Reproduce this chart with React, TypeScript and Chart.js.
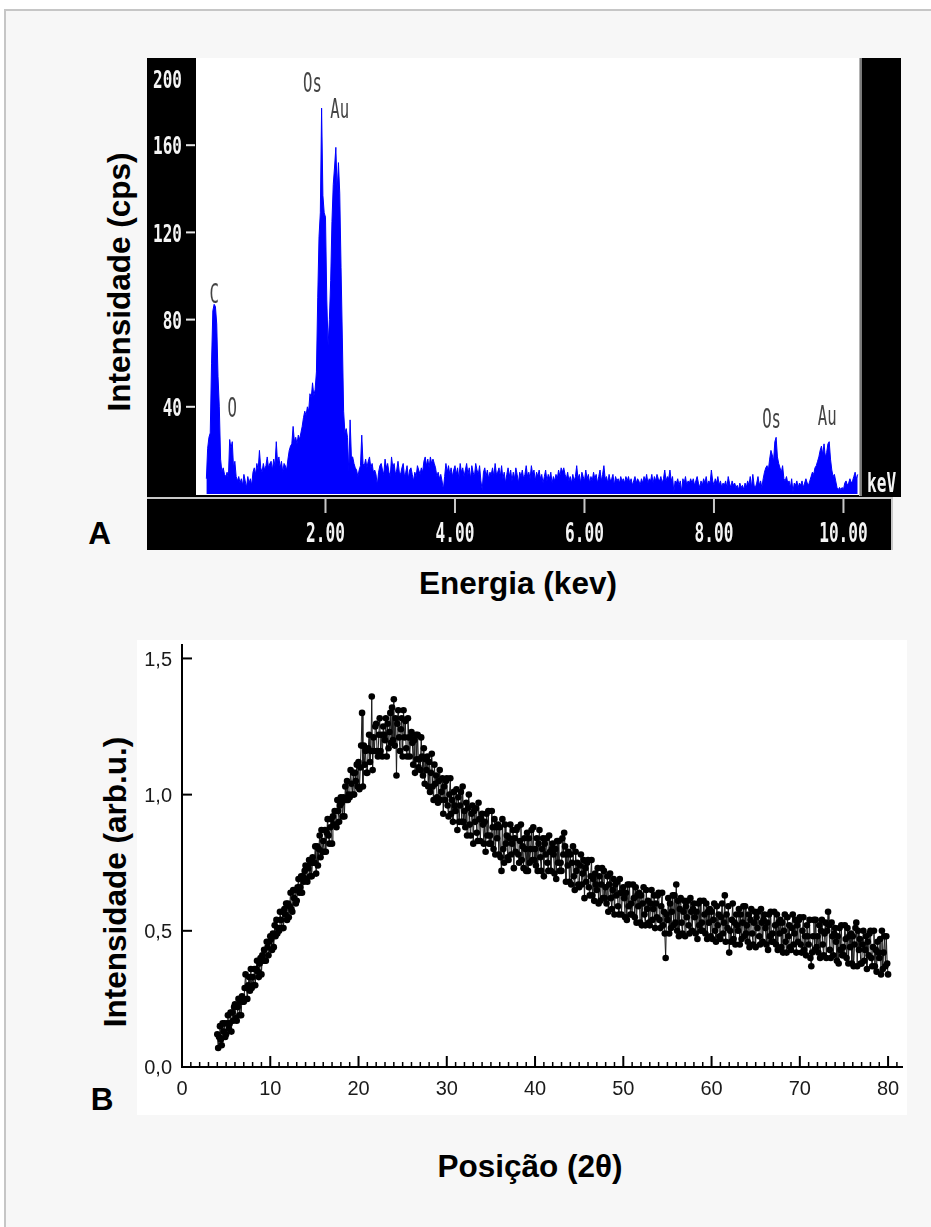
import React, { useEffect, useRef } from 'react';
import { Chart, registerables } from 'chart.js';

Chart.register(...registerables);

// ---------- Panel A : EDS spectrum ----------
const energyStart = 0.16; // keV of first channel
const energyStep = 0.02; // keV per channel
const edsCounts: number[] = [
  7, 21, 26, 28, 60, 84, 87, 86, 78, 54, 40, 16, 10, 12, 9, 8, 10, 7, 25, 21, 24, 12, 15, 8, 6,
  8, 5, 7, 4, 9, 6, 3, 8, 5, 7, 4, 10, 12, 9, 14, 11, 20, 12, 10, 14, 11, 13, 17, 12, 14,
  15, 11, 16, 13, 24, 14, 17, 12, 15, 10, 14, 13, 11, 16, 20, 22, 23, 31, 24, 26, 23, 27, 25, 28, 31,
  35, 38, 36, 40, 38, 46, 44, 51, 45, 48, 56, 90, 118, 129, 177, 137, 129, 127, 89, 68, 80, 98, 125, 142, 150,
  159, 139, 152, 138, 104, 72, 38, 28, 30, 26, 10, 34, 17, 17, 14, 12, 11, 8, 11, 13, 27, 14, 13, 16, 12,
  15, 17, 12, 14, 10, 11, 9, 4, 10, 13, 14, 11, 9, 16, 12, 14, 10, 8, 17, 12, 14, 9, 11, 15, 10,
  9, 12, 14, 8, 10, 13, 7, 11, 12, 9, 6, 10, 8, 13, 11, 9, 12, 10, 15, 17, 13, 16, 12, 17, 14,
  16, 14, 12, 8, 10, 7, 9, 6, 2, 8, 14, 10, 13, 9, 12, 8, 11, 13, 9, 12, 7, 14, 10, 12, 8,
  11, 14, 9, 12, 7, 13, 10, 8, 14, 11, 9, 13, 6, 2, 10, 12, 8, 11, 7, 10, 9, 12, 8, 14, 9,
  10, 12, 8, 13, 7, 10, 5, 9, 12, 8, 11, 6, 10, 7, 12, 9, 5, 10, 8, 11, 7, 9, 13, 8, 10,
  7, 13, 9, 11, 6, 10, 8, 11, 7, 9, 5, 8, 11, 6, 9, 7, 10, 5, 8, 6, 9, 7, 11, 8, 12,
  10, 12, 9, 7, 10, 6, 8, 5, 9, 6, 8, 13, 7, 9, 5, 10, 8, 6, 11, 7, 9, 5, 8, 6, 10,
  7, 9, 5, 8, 11, 6, 9, 13, 7, 8, 5, 9, 6, 7, 9, 4, 8, 6, 7, 5, 8, 6, 7, 5, 8,
  6, 8, 5, 7, 4, 6, 8, 5, 7, 6, 4, 7, 5, 8, 6, 9, 5, 7, 6, 9, 5, 8, 6, 9, 7,
  6, 8, 5, 7, 11, 6, 8, 7, 11, 6, 8, 1, 6, 5, 7, 4, 6, 1, 7, 5, 8, 4, 6, 5, 7,
  5, 7, 4, 6, 8, 5, 3, 6, 4, 7, 5, 8, 4, 6, 5, 11, 6, 4, 7, 5, 8, 4, 6, 3, 5,
  4, 6, 3, 8, 5, 3, 6, 4, 5, 3, 4, 2, 5, 3, 4, 2, 5, 3, 6, 4, 8, 3, 9, 4, 3,
  5, 8, 4, 6, 3, 7, 10, 12, 13, 11, 16, 20, 18, 15, 24, 26, 17, 14, 12, 10, 13, 7, 6, 8, 5,
  6, 3, 7, 1, 5, 4, 6, 3, 5, 4, 6, 3, 5, 7, 5, 4, 6, 8, 10, 9, 12, 13, 15, 17, 20,
  22, 18, 23, 17, 19, 23, 24, 16, 11, 8, 9, 6, 3, 2, 3, 2, 3, 2, 5, 6, 4, 5, 7, 5, 6,
  8, 10, 7, 9,
];
const edsXMax = 10.24;
const edsYMax = 200;
const edsYTickValues = [40, 80, 120, 160];
const edsYTopLabel = '200';
const edsXTickValues = [2, 4, 6, 8, 10];
const edsXTickLabels = ['2.00', '4.00', '6.00', '8.00', '10.00'];
const edsUnitLabel = 'keV';
const edsPeakNames = ['C', 'O', 'Os', 'Au', 'Os', 'Au'];
const edsPeakEnergies = [0.28, 0.56, 1.8, 2.22, 8.89, 9.75];
const edsPeakLabelCps = [92, 40, 189, 177, 35, 36];

// ---------- Panel B : XRD pattern ----------
const thetaStart = 4; // 2θ of first point
const thetaStep = 0.1;
const xrdIntensity: number[] = [
  0.12, 0.07, 0.11, 0.15, 0.10, 0.08, 0.16, 0.13, 0.16, 0.11,
  0.12, 0.16, 0.19, 0.14, 0.16, 0.20, 0.13, 0.20, 0.17, 0.22,
  0.23, 0.18, 0.17, 0.22, 0.25, 0.19, 0.24, 0.19, 0.26, 0.24,
  0.24, 0.29, 0.34, 0.29, 0.25, 0.30, 0.33, 0.28, 0.36, 0.29,
  0.33, 0.30, 0.36, 0.30, 0.36, 0.39, 0.35, 0.33, 0.38, 0.40,
  0.34, 0.41, 0.39, 0.43, 0.39, 0.39, 0.46, 0.44, 0.41, 0.46,
  0.48, 0.47, 0.43, 0.49, 0.44, 0.52, 0.48, 0.54, 0.49, 0.51,
  0.50, 0.57, 0.54, 0.51, 0.57, 0.51, 0.58, 0.56, 0.60, 0.54,
  0.60, 0.55, 0.59, 0.64, 0.58, 0.57, 0.65, 0.62, 0.65, 0.60,
  0.61, 0.66, 0.69, 0.64, 0.66, 0.70, 0.64, 0.70, 0.68, 0.72,
  0.74, 0.69, 0.68, 0.73, 0.76, 0.70, 0.75, 0.70, 0.77, 0.75,
  0.75, 0.81, 0.71, 0.81, 0.74, 0.80, 0.85, 0.77, 0.87, 0.79,
  0.83, 0.79, 0.87, 0.79, 0.86, 0.91, 0.85, 0.82, 0.88, 0.91,
  0.82, 0.92, 0.89, 0.94, 0.89, 0.88, 0.98, 0.94, 0.90, 0.96,
  0.99, 0.97, 0.92, 0.99, 0.92, 1.03, 0.98, 1.05, 0.98, 1.00,
  0.99, 1.09, 1.04, 1.00, 1.08, 1.00, 1.08, 1.05, 1.11, 1.03,
  1.12, 1.02, 1.10, 1.18, 1.30, 1.03, 1.18, 1.11, 1.16, 1.08,
  1.08, 1.17, 1.22, 1.12, 1.16, 1.36, 1.09, 1.21, 1.16, 1.25,
  1.26, 1.16, 1.14, 1.22, 1.28, 1.16, 1.22, 1.14, 1.25, 1.22,
  1.20, 1.28, 1.14, 1.26, 1.17, 1.23, 1.30, 1.19, 1.32, 1.20,
  1.35, 1.18, 1.28, 1.07, 1.26, 1.31, 1.21, 1.16, 1.24, 1.28,
  1.14, 1.31, 1.21, 1.27, 1.17, 1.14, 1.28, 1.21, 1.14, 1.21,
  1.23, 1.19, 1.11, 1.20, 1.08, 1.22, 1.13, 1.22, 1.10, 1.13,
  1.09, 1.21, 1.14, 1.07, 1.17, 1.04, 1.13, 1.09, 1.14, 1.03,
  1.12, 1.01, 1.08, 1.15, 1.03, 0.98, 1.11, 1.04, 1.07, 0.99,
  0.97, 1.05, 1.09, 0.98, 1.01, 1.06, 0.93, 1.03, 0.98, 1.05,
  1.06, 0.96, 0.92, 1.00, 1.06, 0.93, 0.98, 0.90, 1.01, 0.96,
  0.94, 1.02, 0.87, 0.99, 0.90, 0.96, 1.01, 0.90, 1.03, 0.90,
  0.94, 0.88, 0.97, 0.85, 0.95, 1.00, 0.89, 0.85, 0.93, 0.96,
  0.82, 0.94, 0.90, 0.95, 0.86, 0.83, 0.97, 0.91, 0.83, 0.91,
  0.93, 0.89, 0.82, 0.90, 0.79, 0.93, 0.85, 0.94, 0.82, 0.85,
  0.82, 0.94, 0.88, 0.80, 0.91, 0.78, 0.88, 0.84, 0.89, 0.78,
  0.88, 0.77, 0.72, 0.91, 0.80, 0.75, 0.89, 0.82, 0.85, 0.77,
  0.76, 0.84, 0.89, 0.78, 0.82, 0.87, 0.73, 0.84, 0.79, 0.87,
  0.88, 0.78, 0.75, 0.83, 0.89, 0.76, 0.81, 0.73, 0.84, 0.80,
  0.72, 0.86, 0.72, 0.84, 0.75, 0.80, 0.87, 0.76, 0.88, 0.76,
  0.80, 0.74, 0.84, 0.72, 0.82, 0.87, 0.77, 0.72, 0.80, 0.84,
  0.70, 0.82, 0.78, 0.84, 0.75, 0.72, 0.85, 0.79, 0.72, 0.80,
  0.82, 0.78, 0.71, 0.80, 0.69, 0.83, 0.75, 0.83, 0.72, 0.75,
  0.72, 0.84, 0.78, 0.86, 0.81, 0.68, 0.78, 0.74, 0.79, 0.68,
  0.78, 0.67, 0.75, 0.81, 0.70, 0.65, 0.79, 0.72, 0.75, 0.67,
  0.66, 0.74, 0.78, 0.67, 0.71, 0.76, 0.62, 0.73, 0.68, 0.75,
  0.76, 0.66, 0.63, 0.70, 0.76, 0.63, 0.69, 0.61, 0.71, 0.67,
  0.65, 0.73, 0.60, 0.70, 0.61, 0.67, 0.73, 0.62, 0.72, 0.62,
  0.66, 0.60, 0.70, 0.57, 0.67, 0.71, 0.62, 0.58, 0.65, 0.69,
  0.56, 0.67, 0.63, 0.68, 0.59, 0.56, 0.69, 0.64, 0.56, 0.64,
  0.66, 0.62, 0.55, 0.64, 0.54, 0.67, 0.59, 0.67, 0.56, 0.60,
  0.56, 0.67, 0.62, 0.55, 0.66, 0.53, 0.63, 0.59, 0.64, 0.53,
  0.63, 0.52, 0.60, 0.66, 0.56, 0.52, 0.65, 0.58, 0.61, 0.53,
  0.52, 0.60, 0.65, 0.54, 0.58, 0.63, 0.51, 0.60, 0.55, 0.63,
  0.64, 0.54, 0.51, 0.59, 0.64, 0.52, 0.57, 0.49, 0.40, 0.56,
  0.54, 0.62, 0.49, 0.60, 0.51, 0.57, 0.63, 0.52, 0.63, 0.53,
  0.67, 0.50, 0.61, 0.48, 0.58, 0.62, 0.53, 0.49, 0.57, 0.61,
  0.48, 0.59, 0.55, 0.61, 0.52, 0.49, 0.62, 0.57, 0.50, 0.58,
  0.60, 0.55, 0.49, 0.57, 0.47, 0.60, 0.52, 0.61, 0.50, 0.53,
  0.50, 0.61, 0.56, 0.49, 0.60, 0.47, 0.57, 0.53, 0.58, 0.48,
  0.57, 0.47, 0.54, 0.60, 0.50, 0.46, 0.59, 0.52, 0.56, 0.48,
  0.47, 0.55, 0.60, 0.49, 0.53, 0.63, 0.46, 0.56, 0.51, 0.59,
  0.42, 0.50, 0.46, 0.54, 0.60, 0.47, 0.53, 0.45, 0.56, 0.52,
  0.50, 0.58, 0.45, 0.56, 0.47, 0.53, 0.59, 0.48, 0.59, 0.49,
  0.52, 0.46, 0.56, 0.44, 0.54, 0.58, 0.49, 0.45, 0.53, 0.57,
  0.44, 0.55, 0.51, 0.57, 0.48, 0.45, 0.58, 0.53, 0.46, 0.54,
  0.56, 0.51, 0.45, 0.53, 0.43, 0.56, 0.48, 0.57, 0.46, 0.49,
  0.46, 0.57, 0.52, 0.45, 0.56, 0.43, 0.53, 0.49, 0.54, 0.44,
  0.53, 0.42, 0.50, 0.56, 0.46, 0.42, 0.55, 0.48, 0.52, 0.44,
  0.43, 0.51, 0.56, 0.45, 0.49, 0.54, 0.42, 0.52, 0.46, 0.54,
  0.55, 0.45, 0.42, 0.50, 0.55, 0.43, 0.48, 0.41, 0.52, 0.48,
  0.45, 0.54, 0.40, 0.37, 0.42, 0.48, 0.54, 0.43, 0.54, 0.44,
  0.48, 0.42, 0.52, 0.40, 0.50, 0.54, 0.45, 0.41, 0.49, 0.53,
  0.40, 0.50, 0.57, 0.52, 0.43, 0.40, 0.53, 0.48, 0.41, 0.49,
  0.51, 0.46, 0.39, 0.48, 0.38, 0.51, 0.43, 0.52, 0.41, 0.44,
  0.41, 0.52, 0.47, 0.40, 0.51, 0.38, 0.48, 0.44, 0.49, 0.38,
  0.48, 0.37, 0.45, 0.51, 0.53, 0.37, 0.50, 0.43, 0.47, 0.38,
  0.38, 0.45, 0.50, 0.39, 0.43, 0.48, 0.36, 0.46, 0.41, 0.49,
  0.50, 0.40, 0.37, 0.44, 0.50, 0.37, 0.43, 0.35, 0.46, 0.42,
  0.40, 0.47, 0.34, 0.50, 0.36, 0.42, 0.48, 0.37, 0.48, 0.38,
  0.34,
];
const xrdXMax = 81.69;
const xrdYMax = 1.553;
const xrdYTickValues = [0, 0.5, 1, 1.5];
const xrdYTickLabels = ['0,0', '0,5', '1,0', '1,5'];
const xrdXTickValues = [0, 10, 20, 30, 40, 50, 60, 70, 80];
const xrdXTickLabels = ['0', '10', '20', '30', '40', '50', '60', '70', '80'];
const xrdMinorLast = 81;

const MONO = '"DejaVu Sans Mono", "Liberation Mono", monospace';
const SANS = '"Liberation Sans", Arial, Helvetica, sans-serif';

function pixelText(
  ctx: CanvasRenderingContext2D,
  text: string,
  x: number,
  yCenter: number,
  align: 'left' | 'center' | 'right',
  color: string,
  size: number,
  sx: number,
  weight = 'normal'
) {
  ctx.save();
  ctx.font = `${weight} ${size}px ${MONO}`;
  ctx.fillStyle = color;
  ctx.textAlign = 'left';
  ctx.textBaseline = 'alphabetic';
  const w = ctx.measureText(text).width * sx;
  const left = align === 'center' ? x - w / 2 : align === 'right' ? x - w : x;
  ctx.translate(left, yCenter + (size * 0.729) / 2);
  ctx.scale(sx, 1);
  ctx.fillText(text, 0, 0);
  ctx.restore();
}

const edsFrame = {
  id: 'edsFrame',
  beforeDraw(chart: any) {
    const { ctx, chartArea: a, width, height } = chart;
    ctx.save();
    ctx.fillStyle = '#000';
    ctx.fillRect(0, 0, width, height);
    ctx.fillStyle = '#fff';
    ctx.fillRect(a.left, a.top, a.right - a.left, a.bottom - a.top + 1);
    ctx.fillStyle = '#b4b4b4';
    ctx.fillRect(a.right, 0, 1, a.bottom + 2);
    ctx.fillStyle = '#7a7a7a';
    ctx.fillRect(a.right + 1, 0, 2, a.bottom + 2);
    const barEnd = 745;
    ctx.fillStyle = '#f7f7f7';
    ctx.fillRect(barEnd + 1, a.bottom + 3, width - barEnd - 1, height - a.bottom - 3);
    ctx.fillStyle = '#c8c8c8';
    ctx.fillRect(0, a.bottom + 3, barEnd + 1, 2);
    ctx.fillRect(barEnd - 1, a.bottom + 3, 2, height - a.bottom - 3);
    ctx.restore();
  },
  afterDraw(chart: any) {
    const { ctx, chartArea: a } = chart;
    const xs = chart.scales.x;
    const ys = chart.scales.y;
    ctx.save();
    edsYTickValues.forEach((v) => {
      const y = ys.getPixelForValue(v);
      ctx.fillStyle = '#e6e6e6';
      ctx.fillRect(a.left - 10, y - 1, 9, 2);
      pixelText(ctx, String(v), a.left - 14, y, 'right', '#f4f4f4', 25, 0.64, 'bold');
    });
    pixelText(ctx, edsYTopLabel, a.left - 14, ys.getPixelForValue(edsYMax) + 21, 'right', '#f4f4f4', 25, 0.64, 'bold');
    edsXTickValues.forEach((v, i) => {
      const x = xs.getPixelForValue(v);
      ctx.fillStyle = '#c8c8c8';
      ctx.fillRect(x - 1, a.bottom + 3, 2, 16);
      pixelText(ctx, edsXTickLabels[i], x, a.bottom + 39, 'center', '#f4f4f4', 26, 0.62, 'bold');
    });
    ctx.save();
    ctx.font = `bold 26px ${MONO}`;
    ctx.fillStyle = '#f4f4f4';
    ctx.translate(a.right + 8, a.bottom - 2);
    ctx.scale(0.62, 1);
    ctx.fillText(edsUnitLabel, 0, 0);
    ctx.restore();
    edsPeakNames.forEach((n, i) => {
      const x = xs.getPixelForValue(edsPeakEnergies[i]);
      const y = ys.getPixelForValue(edsPeakLabelCps[i]);
      pixelText(ctx, n, x, y, 'center', '#444', 27, 0.58);
    });
    ctx.restore();
  },
};

const xrdFrame = {
  id: 'xrdFrame',
  beforeDraw(chart: any) {
    const { ctx, width, height } = chart;
    ctx.save();
    ctx.fillStyle = '#fff';
    ctx.fillRect(0, 0, width, height);
    ctx.restore();
  },
  afterDraw(chart: any) {
    const { ctx, chartArea: a } = chart;
    const xs = chart.scales.x;
    const ys = chart.scales.y;
    ctx.save();
    ctx.fillStyle = '#000';
    ctx.fillRect(a.left - 1, a.top, 2, a.bottom - a.top + 1);
    ctx.fillRect(a.left - 1, a.bottom - 1, a.right - a.left + 1, 2);
    ctx.font = `20px ${SANS}`;
    ctx.textBaseline = 'alphabetic';
    xrdYTickValues.forEach((v, i) => {
      const y = ys.getPixelForValue(v);
      ctx.fillStyle = '#000';
      ctx.fillRect(a.left, y - 1, 10, 2);
      ctx.fillStyle = '#1a1a1a';
      ctx.textAlign = 'right';
      ctx.fillText(xrdYTickLabels[i], a.left - 10, y + 7.2);
    });
    for (let t = 0; t <= xrdMinorLast; t++) {
      const x = xs.getPixelForValue(t);
      ctx.fillStyle = '#000';
      if (t % 10 === 0) ctx.fillRect(x - 1, a.bottom - 11, 2, 11);
      else ctx.fillRect(x - 0.75, a.bottom - 5, 1.5, 5);
    }
    xrdXTickValues.forEach((v, i) => {
      const x = xs.getPixelForValue(v);
      ctx.fillStyle = '#1a1a1a';
      ctx.textAlign = 'center';
      ctx.fillText(xrdXTickLabels[i], x, a.bottom + 21 + 7.2);
    });
    ctx.restore();
  },
};

function EdsChart() {
  const ref = useRef<HTMLCanvasElement | null>(null);
  useEffect(() => {
    if (!ref.current) return;
    const chart = new Chart(ref.current, {
      type: 'line',
      data: {
        datasets: [
          {
            data: edsCounts.map((c, i) => ({ x: +(energyStart + i * energyStep).toFixed(3), y: c })),
            borderColor: '#0000ff',
            backgroundColor: '#0000ff',
            borderWidth: 1,
            pointRadius: 0,
            fill: 'origin',
            tension: 0,
          },
        ],
      },
      options: {
        animation: false,
        responsive: false,
        events: [],
        layout: { padding: { left: 49, right: 42, top: 0, bottom: 56 } },
        scales: {
          x: { type: 'linear', min: 0, max: edsXMax, display: false },
          y: { type: 'linear', min: 0, max: edsYMax, display: false },
        },
        plugins: { legend: { display: false }, tooltip: { enabled: false } },
      },
      plugins: [edsFrame],
    } as any);
    return () => chart.destroy();
  }, []);
  return (
    <canvas
      ref={ref}
      width={754}
      height={492}
      style={{ position: 'absolute', left: 147, top: 58, width: 754, height: 492 }}
    />
  );
}

function XrdChart() {
  const ref = useRef<HTMLCanvasElement | null>(null);
  useEffect(() => {
    if (!ref.current) return;
    const chart = new Chart(ref.current, {
      type: 'line',
      data: {
        datasets: [
          {
            data: xrdIntensity.map((v, i) => ({ x: +(thetaStart + i * thetaStep).toFixed(2), y: v })),
            borderColor: '#1a1a1a',
            borderWidth: 1,
            pointRadius: 3.3,
            pointBackgroundColor: '#000',
            pointBorderColor: '#000',
            pointBorderWidth: 0,
            fill: false,
            tension: 0,
          },
        ],
      },
      options: {
        animation: false,
        responsive: false,
        events: [],
        layout: { padding: { left: 45, right: 0, top: 0, bottom: 48 } },
        scales: {
          x: { type: 'linear', min: 0, max: xrdXMax, display: false },
          y: { type: 'linear', min: 0, max: xrdYMax, display: false },
        },
        plugins: { legend: { display: false }, tooltip: { enabled: false } },
      },
      plugins: [xrdFrame],
    } as any);
    return () => chart.destroy();
  }, []);
  return (
    <canvas
      ref={ref}
      width={770}
      height={475}
      style={{ position: 'absolute', left: 137, top: 640, width: 770, height: 475 }}
    />
  );
}

const labelBase: React.CSSProperties = {
  position: 'absolute',
  font: `bold 31.5px ${SANS}`,
  lineHeight: '31.5px',
  whiteSpace: 'nowrap',
  color: '#000',
  transform: 'translate(-50%, -50%)',
};

export default function App() {
  return (
    <div
      style={{
        position: 'absolute',
        left: 0,
        top: 0,
        width: 931,
        height: 1227,
        overflow: 'hidden',
        background: '#fff',
      }}
    >
      <div
        style={{
          position: 'absolute',
          left: 4,
          top: 9,
          width: 1000,
          height: 1300,
          borderLeft: '2px solid #c6c6c6',
          borderTop: '2px solid #c6c6c6',
          background: '#f7f7f7',
        }}
      />
      <EdsChart />
      <XrdChart />
      <div style={{ ...labelBase, left: 120, top: 282, transform: 'translate(-50%, -50%) rotate(-90deg)' }}>
        Intensidade (cps)
      </div>
      <div style={{ ...labelBase, left: 518, top: 584 }}>Energia (kev)</div>
      <div style={{ ...labelBase, left: 99.5, top: 533.5 }}>A</div>
      <div style={{ ...labelBase, left: 116, top: 882, transform: 'translate(-50%, -50%) rotate(-90deg)' }}>
        Intensidade (arb.u.)
      </div>
      <div style={{ ...labelBase, left: 530, top: 1167 }}>Posição (2θ)</div>
      <div style={{ ...labelBase, left: 102, top: 1100 }}>B</div>
    </div>
  );
}
